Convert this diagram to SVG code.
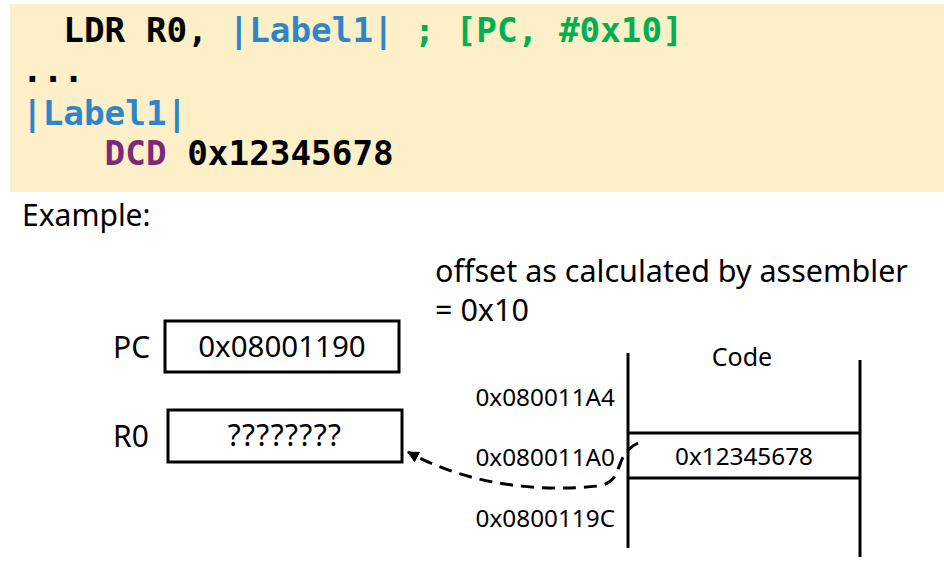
<svg xmlns="http://www.w3.org/2000/svg" width="944" height="567" viewBox="0 0 944 567">
<defs>
<style>
.code{font-family:"DejaVu Sans Mono",monospace;font-weight:bold;font-size:34.3px;white-space:pre}
.k{fill:#000}.b{fill:#2E86C8}.g{fill:#00B050}.p{fill:#7B2A78}
.t{font-family:"Noto Sans","Open Sans",sans-serif;fill:#000}
.box{fill:#fff;stroke:#000;stroke-width:3}
.ln{stroke:#000;stroke-width:3;fill:none}
</style>
<marker id="ah" viewBox="0 0 10 10" refX="9" refY="5" markerWidth="4" markerHeight="4" orient="auto-start-reverse" markerUnits="strokeWidth">
<path d="M0,0 L10,5 L0,10 z" fill="#000"/>
</marker>
</defs>
<rect x="0" y="0" width="944" height="567" fill="#fff"/>
<g id="code">
<rect x="10" y="4" width="934" height="188" fill="#FDF0C8"/>
<text class="code" x="22" y="42" xml:space="preserve"><tspan class="k">  LDR R0, </tspan><tspan class="b">|Label1|</tspan><tspan class="g"> ; [PC, #0x10]</tspan></text>
<text class="code k" x="22" y="82">...</text>
<text class="code b" x="22" y="125">|Label1|</text>
<text class="code" x="22" y="165" xml:space="preserve"><tspan class="p">    DCD</tspan><tspan class="k"> 0x12345678</tspan></text>
</g>
<text class="t" x="22" y="226" font-size="30">Example:</text>
<text class="t" x="435" y="282" font-size="30.5">offset as calculated by assembler</text>
<text class="t" x="435" y="321" font-size="30.5">= 0x10</text>
<g id="pc">
<text class="t" x="113" y="358" font-size="30">PC</text>
<rect class="box" x="165" y="321" width="234" height="51"/>
<text class="t" x="282" y="357" font-size="29.5" text-anchor="middle">0x08001190</text>
</g>
<g id="r0">
<text class="t" x="113" y="447" font-size="30">R0</text>
<rect class="box" x="168" y="410" width="234" height="52"/>
<text class="t" x="285" y="446" font-size="30" letter-spacing="1.3" text-anchor="middle">????????</text>
</g>
<g id="memory">
<line class="ln" x1="628" y1="353" x2="628" y2="548"/>
<line class="ln" x1="860" y1="360" x2="860" y2="557"/>
<line class="ln" x1="628" y1="433" x2="860" y2="433"/>
<line class="ln" x1="628" y1="478" x2="860" y2="478"/>
<text class="t" x="742" y="366" font-size="25" text-anchor="middle">Code</text>
<text class="t" x="744" y="465" font-size="24.3" text-anchor="middle">0x12345678</text>
<text class="t" x="615" y="406" font-size="24.3" text-anchor="end">0x080011A4</text>
<text class="t" x="615" y="466" font-size="24.3" text-anchor="end">0x080011A0</text>
<text class="t" x="615" y="527" font-size="24.3" text-anchor="end">0x0800119C</text>
</g>
<g id="connectors">
<path class="ln" d="M638,443 C612,455 626,482 598,486 C540,492 470,486 408,452" stroke-dasharray="13,8" marker-end="url(#ah)"/>
</g>
</svg>
